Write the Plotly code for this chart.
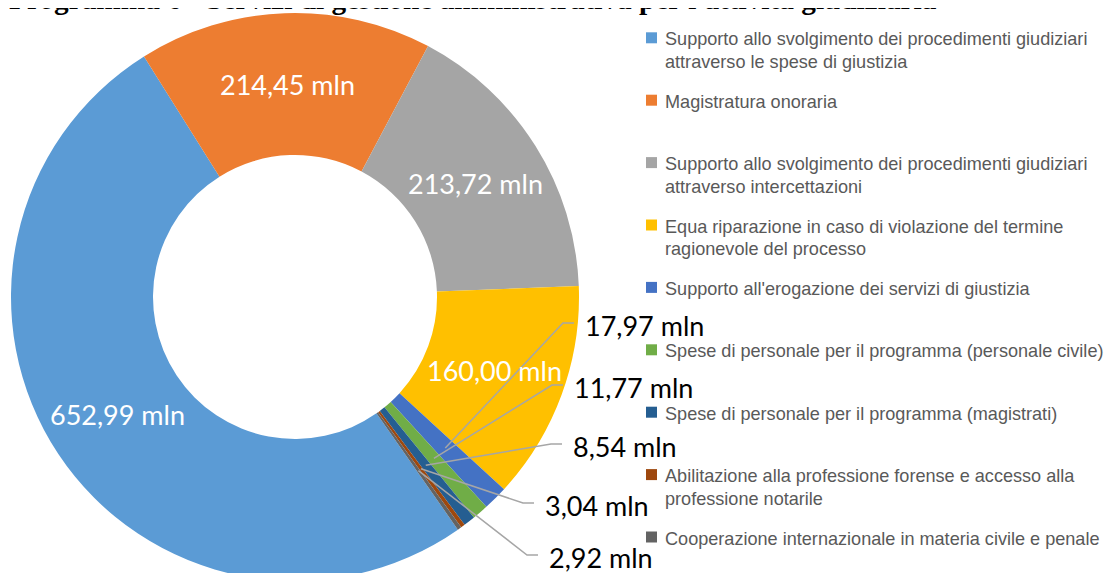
import math
import plotly.graph_objects as go

# ---------------- data ----------------
categories = [
    "Supporto allo svolgimento dei procedimenti giudiziari attraverso le spese di giustizia",
    "Magistratura onoraria",
    "Supporto allo svolgimento dei procedimenti giudiziari attraverso intercettazioni",
    "Equa riparazione in caso di violazione del termine ragionevole del processo",
    "Supporto all'erogazione dei servizi di giustizia",
    "Spese di personale per il programma (personale civile)",
    "Spese di personale per il programma (magistrati)",
    "Abilitazione alla professione forense e accesso alla professione notarile",
    "Cooperazione internazionale in materia civile e penale",
]
legend_lines = [
    ["Supporto allo svolgimento dei procedimenti giudiziari", "attraverso le spese di giustizia"],
    ["Magistratura onoraria"],
    ["Supporto allo svolgimento dei procedimenti giudiziari", "attraverso intercettazioni"],
    ["Equa riparazione in caso di violazione del termine", "ragionevole del processo"],
    ["Supporto all'erogazione dei servizi di giustizia"],
    ["Spese di personale per il programma (personale civile)"],
    ["Spese di personale per il programma (magistrati)"],
    ["Abilitazione alla professione forense e accesso alla", "professione notarile"],
    ["Cooperazione internazionale in materia civile e penale"],
]
values = [652.99, 214.45, 213.72, 160.00, 17.97, 11.77, 8.54, 3.04, 2.92]
title_text = "Programma 6 - Servizi di gestione amministrativa per l'attività giudiziaria"

# ---------------- style / layout ----------------
colors = ["#5B9BD5", "#ED7D31", "#A5A5A5", "#FFC000", "#4472C4",
          "#70AD47", "#255E91", "#9E480E", "#636363"]
W, H = 1114, 600          # figure size (page shows top-left part)
OFF = 8                   # page body margin
R = 284
scx, scy = 295, 297       # pie centre on screen
ROT = 145
inside_idx = [0, 1, 2, 3]
# outside label layout (screen px): text left x, text centre y
out_left = [583, 572, 571, 543, 547]
out_y = [325, 387, 446, 505, 557]


def fmt(v):
    return f"{v:.2f}".replace(".", ",") + " mln"


def px(x, y):
    return (x - OFF) / W, 1 - (y - OFF) / H


total = sum(values)
mids = []
acc = 0.0
for v in values:
    mids.append(ROT + (acc + v / 2) / total * 360)
    acc += v


def polar(r, ang):
    a = math.radians(ang)
    return scx + r * math.sin(a), scy - r * math.cos(a)


half_w = scx - OFF  # domain half-width (>= R so radius is set by height)
dx0, dy1 = px(scx - half_w, scy - R)
dx1, dy0 = px(scx + half_w, scy + R)

fig = go.Figure()
fig.add_trace(go.Pie(
    labels=categories, values=values, hole=0.5, sort=False,
    direction="clockwise", rotation=ROT, textinfo="none",
    marker=dict(colors=colors, line=dict(width=0)),
    domain=dict(x=[max(0, dx0), dx1], y=[dy0, dy1]),
    showlegend=False, hoverinfo="label+value",
))

annotations = []
shapes = []

# inside labels
for i in inside_idx:
    x, y = polar(0.75 * R, mids[i])
    xp, yp = px(x, y)
    annotations.append(dict(x=xp, y=yp, xref="paper", yref="paper", text=fmt(values[i]),
                            showarrow=False, xanchor="center", yanchor="middle",
                            font=dict(family="Lato", size=27, color="white")))

# outside labels with leader lines
small = [i for i in range(len(values)) if i not in inside_idx]
for k, i in enumerate(small):
    tx, ty = polar(0.75 * R, mids[i])
    lx = out_left[k]
    ly = out_y[k]
    e1 = lx - 9
    e0 = e1 - 11
    p0 = px(tx, ty)
    p1 = px(e0, ly - 2)
    p2 = px(e1, ly - 2)
    shapes.append(dict(type="path", xref="paper", yref="paper",
                       path=f"M {p0[0]},{p0[1]} L {p1[0]},{p1[1]} L {p2[0]},{p2[1]}",
                       line=dict(color="#A6A6A6", width=1.5)))
    xp, yp = px(lx, ly)
    annotations.append(dict(x=xp, y=yp, xref="paper", yref="paper", text=fmt(values[i]),
                            showarrow=False, xanchor="left", yanchor="middle",
                            font=dict(family="Lato", size=27, color="black")))

# legend (manual)
LEG_FS = 18.1
for i, lines in enumerate(legend_lines):
    base = 45.7 + 62.4 * i
    x0, y0 = px(646, base - 13.4)
    x1, y1 = px(657, base - 2.4)
    shapes.append(dict(type="rect", xref="paper", yref="paper", x0=x0, x1=x1, y0=y0, y1=y1,
                       fillcolor=colors[i], line=dict(width=0)))
    for j, t in enumerate(lines):
        b = base + 22.6 * j
        xp, yp = px(663, b - 0.35 * LEG_FS)
        annotations.append(dict(x=xp, y=yp, xref="paper", yref="paper", text=t,
                                showarrow=False, xanchor="left", yanchor="middle",
                                font=dict(family="Liberation Sans", size=LEG_FS, color="#595959")))

# title (partially cut at the top as in the reference)
tx, ty = px(473, 9 - 0.3375 * 29.3)
annotations.append(dict(x=tx, y=ty, xref="paper", yref="paper",
                        text="<b>" + title_text + "</b>", showarrow=False,
                        xanchor="center", yanchor="middle",
                        font=dict(family="Liberation Serif", size=29.3, color="black")))

fig.update_layout(width=W, height=H, margin=dict(l=0, r=0, t=0, b=0),
                  paper_bgcolor="white", plot_bgcolor="white",
                  annotations=annotations, shapes=shapes, showlegend=False)
fig.write_html("out.html")
